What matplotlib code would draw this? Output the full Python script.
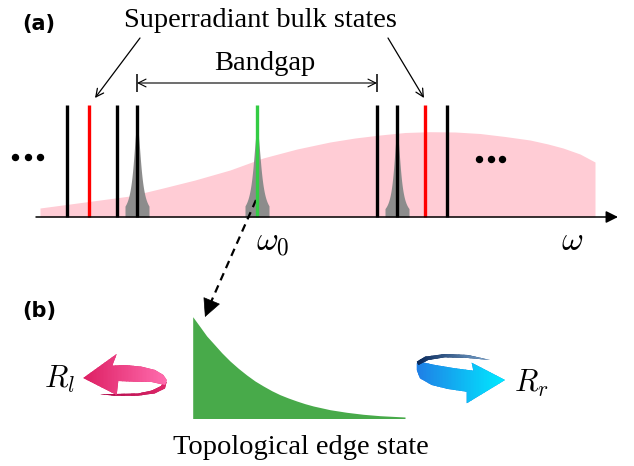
import numpy as np
import matplotlib.pyplot as plt
from matplotlib.patches import Polygon
from matplotlib.colors import LinearSegmentedColormap

plt.rcParams['mathtext.fontset'] = 'cm'
serif = 'Liberation Serif'

# ---- panel (a): eigenfrequencies on the omega axis (figure pixel units) ----
axis_y = 217
line_top = 105
bulk_x = [67, 89, 117, 137, 377, 397, 425, 447]
bulk_colors = ['k', 'r', 'k', 'k', 'k', 'k', 'r', 'k']
edge_x0 = 257

# lorentzian peaks (center, height, half width)
peak_c = [137, 257, 397]
peak_h = [92, 87, 84]
peak_g = [4.4, 4.6, 4.0]

# pink spectral envelope
env_x = [40, 70, 100, 130, 163, 195, 230, 263, 297, 330, 355, 380, 405,
         430, 455, 480, 505, 530, 548, 563, 580, 595]
env_y = [208, 204, 200, 196, 188, 180, 170, 158, 149, 142, 138, 135, 132.5,
         131.7, 132, 133.5, 136.5, 140, 144, 148, 154, 162]

# ---- panel (b): edge state profile ----
es_x = [192.7, 200, 206.7, 213.3, 221.7, 230, 238.3, 246.7, 255, 263.3,
        271.7, 280, 288.3, 296.7, 305, 313.3, 330, 346.7, 363.3, 380, 405]
es_y = [316.7, 326.7, 336, 343.3, 352.7, 361, 368.3, 375, 381, 386,
        390.7, 394.7, 398, 401, 403.7, 406, 409.7, 412.3, 414.3, 415.7, 417]
es_base = 418.5


def grad_fill(ax, pts, c0, c1, z, n=60):
    # horizontal colour gradient inside a polygon, built from thin strips
    pts = np.array(pts, dtype=float)
    poly = Polygon(pts, closed=True, fc=c0, ec='none', zorder=z)
    ax.add_patch(poly)
    cmap = LinearSegmentedColormap.from_list('g', [c0, c1])
    x0, x1 = pts[:, 0].min(), pts[:, 0].max()
    y0, y1 = pts[:, 1].min(), pts[:, 1].max()
    edges = np.linspace(x0, x1, n + 1)
    for i in range(n):
        a, b = edges[i], edges[i + 1] + 0.4
        strip = Polygon([(a, y0), (b, y0), (b, y1), (a, y1)], closed=True,
                        fc=cmap(i / (n - 1)), ec='none', zorder=z + 0.1)
        ax.add_patch(strip)
        strip.set_clip_path(poly)


fig = plt.figure(figsize=(6.34, 4.66), dpi=100)
ax = fig.add_axes([0, 0, 1, 1])

# envelope
ax.fill_between(env_x, env_y, axis_y, color='#ffccd5', lw=0, zorder=1)

# gray peaks
for c, h, g in zip(peak_c, peak_h, peak_g):
    xx = np.linspace(c - 12, c + 12, 200)
    yy = axis_y - h / (1 + ((xx - c) / g) ** 2)
    ax.fill_between(xx, yy, axis_y, color='#8c8c8c', lw=0, zorder=2)

# states
ax.vlines(bulk_x, line_top, axis_y, colors=bulk_colors, lw=2.4, zorder=3)
ax.vlines(edge_x0, line_top, axis_y, colors='#33cc44', lw=2.4, zorder=3)

# omega axis
ax.annotate('', xy=(618, axis_y), xytext=(36, axis_y),
            arrowprops=dict(arrowstyle='-|>', lw=1.1, color='k',
                            mutation_scale=18, shrinkA=0, shrinkB=0), zorder=4)

# dots
ax.plot([15, 28, 40], [157, 157, 157], 'o', ms=4.3, color='k', zorder=4)
ax.plot([479, 491, 502], [159, 159, 159], 'o', ms=4.3, color='k', zorder=4)

# bandgap marker
ax.annotate('', xy=(137, 83), xytext=(377, 83),
            arrowprops=dict(arrowstyle='<->', lw=0.8, color='k',
                            mutation_scale=14, shrinkA=0, shrinkB=0))
ax.vlines([137, 377], 74, 92, colors='k', lw=1.1)
ax.text(265, 70, 'Bandgap', ha='center', va='baseline', fontsize=20.5,
        family=serif)

ax.text(260, 27, 'Superradiant bulk states', ha='center', va='baseline',
        fontsize=20.5, family=serif)
for a, b in [((140, 38), (95, 98)), ((388, 38), (424, 98))]:
    ax.annotate('', xy=b, xytext=a,
                arrowprops=dict(arrowstyle='->', lw=0.9, color='k',
                                mutation_scale=14, shrinkA=0, shrinkB=0))

ax.text(256, 250, r'$\omega_0$', ha='left', va='baseline', fontsize=24)
ax.text(561, 250, r'$\omega$', ha='left', va='baseline', fontsize=24)

ax.text(22, 30, '(a)', fontsize=15, fontweight='bold', family='DejaVu Sans',
        va='baseline')
ax.text(22, 317, '(b)', fontsize=15, fontweight='bold', family='DejaVu Sans',
        va='baseline')

# dashed link from omega_0 to the edge state
ax.plot([256, 211], [200, 302], ls=(0, (3.5, 2.5)), lw=1.6, color='k')
ax.annotate('', xy=(205, 317), xytext=(212, 300),
            arrowprops=dict(arrowstyle='-|>', lw=0.5, color='k',
                            mutation_scale=30, shrinkA=0, shrinkB=0))

# edge state profile
ax.fill_between(es_x, es_y, es_base, color='#48aa4a', lw=0, zorder=2)
ax.text(301, 454, 'Topological edge state', ha='center', va='baseline',
        fontsize=20.5, family=serif)

# left rotation arrow (pink)
grad_fill(ax, [(166.7, 381.7), (165, 388.3), (155, 393.3), (138, 395.7),
               (115, 395.7), (100, 394.3), (115, 394), (138, 393.5),
               (152, 390.5), (161, 386), (164, 382)],
          '#b0084a', '#e0286a', 5)
grad_fill(ax, [(83.3, 378), (116.7, 354), (112.3, 365.7), (125, 365),
               (141.7, 366.7), (155, 370), (163.3, 375), (166.7, 380),
               (165, 385), (151.7, 382), (135, 381.7), (118.3, 381),
               (116.7, 395)],
          '#dd1f63', '#ff6cae', 6)
ax.text(44, 388, r'$R_l$', fontsize=22, va='baseline')

# right rotation arrow (blue)
grad_fill(ax, [(505, 380), (471.7, 362.7), (473.3, 370.7), (455, 368.3),
               (435, 365), (420, 361.7), (416.7, 363.3), (416.7, 370),
               (420, 378.3), (431.7, 385), (448, 389), (466.7, 391.7),
               (466.7, 403.3)],
          '#1f7fe6', '#00eaff', 5)
grad_fill(ax, [(416.7, 361.7), (425, 356.7), (445, 354), (468, 355),
               (490, 360), (468, 358), (445, 357.3), (428.3, 360),
               (418.3, 365)],
          '#08285a', '#7aa6cf', 6)
ax.text(514, 392, r'$R_r$', fontsize=22, va='baseline')

ax.set_xlim(0, 634)
ax.set_ylim(466, 0)
ax.axis('off')

fig.savefig('out.png', dpi=100)
